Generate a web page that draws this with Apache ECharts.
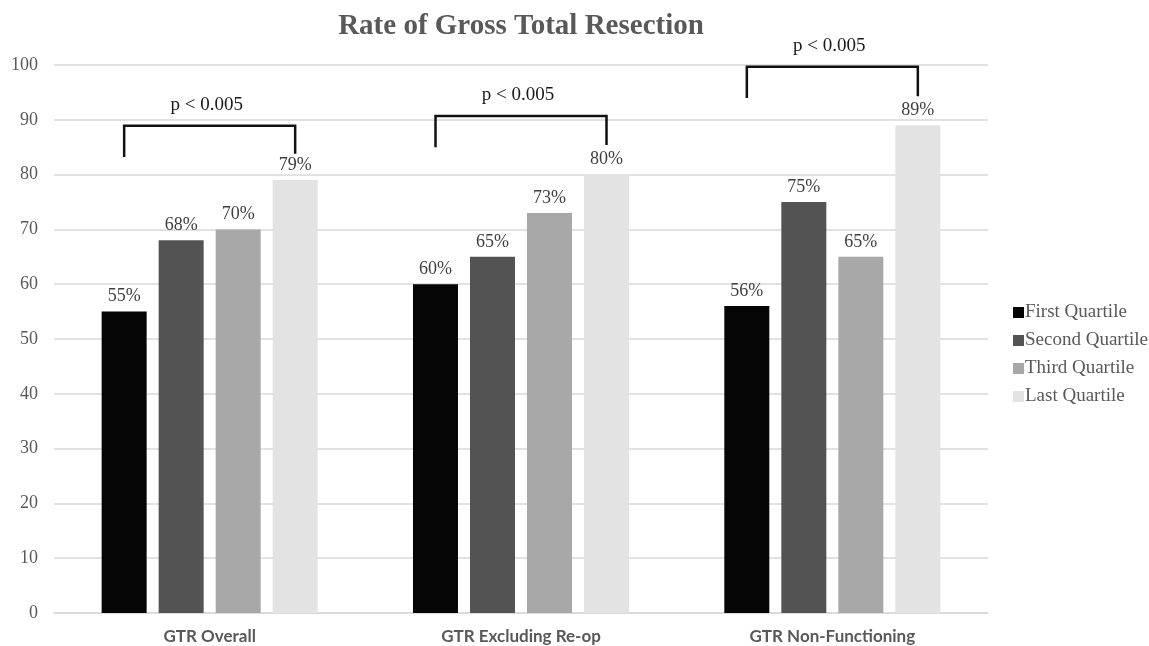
<!DOCTYPE html>
<html>
<head>
<meta charset="utf-8">
<title>Rate of Gross Total Resection</title>
<script src="https://cdn.jsdelivr.net/npm/echarts@6/dist/echarts.min.js"></script>
<style>
  html, body { margin: 0; padding: 0; background: #ffffff; }
  #chart { width: 1149px; height: 646px; }
</style>
</head>
<body>
<div id="chart"></div>
<script>
// Categories and series
const categories = ['GTR Overall', 'GTR Excluding Re-op', 'GTR Non-Functioning'];
const seriesNames = ['First Quartile', 'Second Quartile', 'Third Quartile', 'Last Quartile'];
const firstQuartile = [55, 60, 56];
const secondQuartile = [68, 65, 75];
const thirdQuartile = [70, 73, 65];
const lastQuartile = [79, 80, 89];
const seriesValues = [firstQuartile, secondQuartile, thirdQuartile, lastQuartile];
const yTicks = [0, 10, 20, 30, 40, 50, 60, 70, 80, 90, 100];

// Significance brackets: top of bracket and ends of the left / right legs (axis units)
const bracketLabel = ['p < 0.005', 'p < 0.005', 'p < 0.005'];
const bracketTop = [88.9, 90.7, 99.7];
const bracketLeftEnd = [83.2, 85.0, 94.0];
const bracketRightEnd = [83.8, 85.4, 94.3];

const colors = ['#050505', '#535353', '#a8a8a8', '#e3e3e3'];
const SERIF = '"Liberation Serif", "Times New Roman", serif';
const BAR_W = 45;
const BAR_GAP = 12;

const chart = echarts.init(document.getElementById('chart'), null, { renderer: 'canvas' });

const barSeries = seriesNames.map((name, i) => ({
  name: name,
  type: 'bar',
  data: seriesValues[i],
  barWidth: BAR_W,
  barGap: (BAR_GAP / BAR_W * 100).toFixed(1) + '%',
  itemStyle: { color: colors[i] },
  label: {
    show: true,
    position: 'top',
    distance: 6,
    formatter: '{c}%',
    color: '#404040',
    fontFamily: SERIF,
    fontSize: 18
  }
}));

const bracketData = categories.map((c, i) => [i, bracketTop[i], bracketLeftEnd[i], bracketRightEnd[i]]);

const bracketSeries = {
  type: 'custom',
  name: 'brackets',
  data: bracketData,
  encode: { x: 0, y: 1 },
  silent: true,
  z: 5,
  renderItem: function (params, api) {
    const idx = api.value(0);
    const top = api.coord([idx, api.value(1)]);
    const yl = api.coord([idx, api.value(2)])[1];
    const yr = api.coord([idx, api.value(3)])[1];
    const half = 1.5 * (BAR_W + BAR_GAP);
    const xl = top[0] - half;
    const xr = top[0] + half;
    return {
      type: 'group',
      children: [
        {
          type: 'polyline',
          shape: { points: [[xl, yl], [xl, top[1]], [xr, top[1]], [xr, yr]] },
          style: { stroke: '#111111', lineWidth: 2.5, fill: null }
        },
        {
          type: 'text',
          style: {
            text: bracketLabel[params.dataIndex],
            x: top[0] - 3,
            y: top[1] - 21,
            align: 'center',
            verticalAlign: 'middle',
            fill: '#1a1a1a',
            font: '19px ' + SERIF
          }
        }
      ]
    };
  }
};

chart.setOption({
  animation: false,
  backgroundColor: '#ffffff',
  title: {
    text: 'Rate of Gross Total Resection',
    left: 516,
    textAlign: 'center',
    top: 7,
    textStyle: {
      color: '#595959',
      fontFamily: SERIF,
      fontWeight: 'bold',
      fontSize: 29
    }
  },
  legend: {
    orient: 'vertical',
    left: 1008,
    top: 298,
    data: seriesNames,
    icon: 'rect',
    itemWidth: 11,
    itemHeight: 11,
    itemGap: 9,
    textStyle: {
      color: '#595959',
      fontFamily: SERIF,
      fontSize: 19,
      padding: [0, 0, 0, -4]
    }
  },
  grid: {
    left: 54,
    right: 161,
    top: 65,
    bottom: 33
  },
  xAxis: {
    type: 'category',
    data: categories,
    axisLine: { lineStyle: { color: '#d9d9d9', width: 1.5 } },
    axisTick: { show: false },
    axisLabel: {
      color: '#595959',
      fontFamily: 'Lato, "Open Sans", sans-serif',
      fontWeight: 'bold',
      fontSize: 17,
      margin: 15
    }
  },
  yAxis: {
    type: 'value',
    min: yTicks[0],
    max: yTicks[yTicks.length - 1],
    interval: yTicks[1] - yTicks[0],
    axisLine: { show: false },
    axisTick: { show: false },
    splitLine: { lineStyle: { color: '#d9d9d9', width: 1.5 } },
    axisLabel: {
      color: '#595959',
      fontFamily: SERIF,
      fontSize: 18,
      margin: 16
    }
  },
  series: barSeries.concat([bracketSeries])
});
</script>
</body>
</html>
